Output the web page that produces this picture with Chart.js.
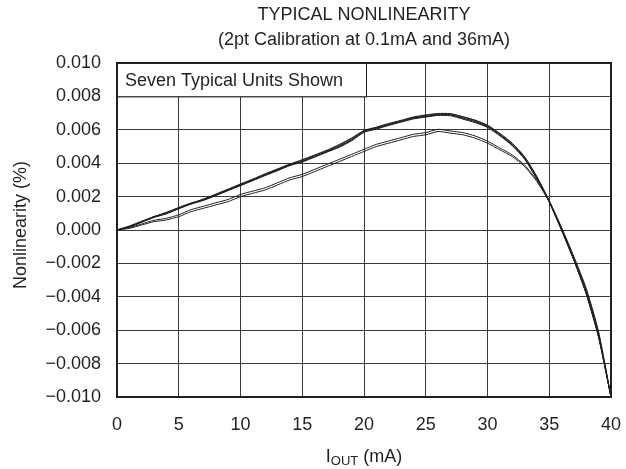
<!DOCTYPE html>
<html lang="en">
<head>
<meta charset="UTF-8">
<title>Typical Nonlinearity</title>
<script src="https://cdn.jsdelivr.net/npm/chart.js"></script>
<style>
  html, body { margin: 0; padding: 0; background: #fff; }
  #wrap { width: 626px; height: 469px; }
</style>
</head>
<body>
<div id="wrap"><canvas id="myChart"></canvas></div>
<script>
// current in mA, 0..40
const iOut = [0,1,2,3,4,5,6,7,8,9,10,11,12,13,14,15,16,17,18,19,20,21,22,23,24,25,26,27,28,29,30,31,32,33,34,35,36,37,38,39,40];

// seven units, nonlinearity in %
const unit1 = [0, 0.0002, 0.0005, 0.0008, 0.0010, 0.0013, 0.0016, 0.0018, 0.0021, 0.0024, 0.0027, 0.0030, 0.0033, 0.0036, 0.0039, 0.0041, 0.0044, 0.0047, 0.0050, 0.0054, 0.0059, 0.0061, 0.0063, 0.0065, 0.0067, 0.0068, 0.0069, 0.0069, 0.0067, 0.0065, 0.0062, 0.0057, 0.0051, 0.0043, 0.0031, 0.0017, 0.0000, -0.0018, -0.0038, -0.0064, -0.0100];
const unit2 = [0, 0.00024, 0.00053, 0.00079, 0.00106, 0.00133, 0.00158, 0.00186, 0.00213, 0.00242, 0.00273, 0.00302, 0.00334, 0.00363, 0.00393, 0.00418, 0.00446, 0.00475, 0.00508, 0.00548, 0.00593, 0.00613, 0.00635, 0.00653, 0.00674, 0.00686, 0.00694, 0.00695, 0.00677, 0.00656, 0.00625, 0.00576, 0.00516, 0.00436, 0.00318, 0.00172, 0.00002, -0.00178, -0.00376, -0.00634, -0.0100];
const unit3 = [0, 0.00017, 0.00046, 0.00075, 0.00097, 0.00127, 0.00155, 0.00177, 0.00206, 0.00236, 0.00265, 0.00296, 0.00326, 0.00355, 0.00386, 0.00407, 0.00436, 0.00466, 0.00495, 0.00534, 0.00585, 0.00604, 0.00626, 0.00646, 0.00665, 0.00676, 0.00686, 0.00684, 0.00664, 0.00643, 0.00614, 0.00564, 0.00505, 0.00424, 0.00304, 0.00166, -0.00002, -0.00183, -0.00385, -0.00645, -0.0100];
const unit4 = [0, 0.00022, 0.00050, 0.00081, 0.00103, 0.00135, 0.00162, 0.00183, 0.00215, 0.00245, 0.00276, 0.00305, 0.00337, 0.00366, 0.00395, 0.00421, 0.00449, 0.00478, 0.00512, 0.00551, 0.00596, 0.00616, 0.00638, 0.00657, 0.00677, 0.00689, 0.00698, 0.00697, 0.00679, 0.00658, 0.00628, 0.00579, 0.00520, 0.00440, 0.00320, 0.00175, 0.00004, -0.00175, -0.00374, -0.00632, -0.0100];
const unit5 = [0, 0.00019, 0.00048, 0.00077, 0.00100, 0.00129, 0.00157, 0.00180, 0.00208, 0.00238, 0.00268, 0.00298, 0.00329, 0.00358, 0.00388, 0.00412, 0.00441, 0.00470, 0.00502, 0.00541, 0.00588, 0.00608, 0.00630, 0.00649, 0.00669, 0.00680, 0.00690, 0.00689, 0.00670, 0.00648, 0.00618, 0.00569, 0.00509, 0.00428, 0.00309, 0.00168, -0.00001, -0.00181, -0.00381, -0.00640, -0.0100];
const unit6 = [0, 0.0001, 0.0003, 0.0005, 0.0006, 0.0008, 0.0011, 0.0013, 0.0015, 0.0017, 0.0020, 0.0022, 0.0024, 0.0027, 0.0030, 0.0032, 0.0035, 0.0038, 0.0041, 0.0044, 0.0047, 0.0050, 0.0052, 0.0054, 0.0056, 0.0057, 0.0059, 0.0058, 0.0057, 0.0055, 0.0052, 0.0048, 0.0044, 0.0038, 0.0029, 0.0017, 0.0001, -0.0017, -0.0036, -0.0062, -0.0100];
const unit7 = [0, 0.00014, 0.00036, 0.00058, 0.00070, 0.00091, 0.00122, 0.00142, 0.00163, 0.00183, 0.00213, 0.00233, 0.00253, 0.00283, 0.00313, 0.00333, 0.00363, 0.00393, 0.00423, 0.00453, 0.00483, 0.00513, 0.00533, 0.00553, 0.00573, 0.00583, 0.00603, 0.00593, 0.00583, 0.00563, 0.00532, 0.00491, 0.00450, 0.00389, 0.00297, 0.00175, 0.00015, -0.00160, -0.00350, -0.00610, -0.0100];

const units = [unit1, unit2, unit3, unit4, unit5, unit6, unit7];

const titleLines = ['TYPICAL NONLINEARITY', '(2pt Calibration at 0.1mA and 36mA)'];
const yTitle = 'Nonlinearity (%)';
const noteText = 'Seven Typical Units Shown';

const FONT = '"Liberation Sans", Arial, sans-serif';
const INK = '#231f20';

// titles, note box and frame
const decor = {
  id: 'decor',
  beforeDatasetsDraw(chart) {
    const { ctx, scales: { x, y } } = chart;
    // note box in top band, 0..20 mA
    const bx = x.getPixelForValue(0), bx2 = x.getPixelForValue(20);
    const by = y.getPixelForValue(0.010), by2 = y.getPixelForValue(0.008);
    ctx.save();
    ctx.fillStyle = '#fff';
    ctx.fillRect(bx, by, bx2 - bx + 2, by2 - by);
    ctx.strokeStyle = INK;
    ctx.lineWidth = 1;
    ctx.strokeRect(bx + 0.5, by + 0.5, bx2 - bx + 2, by2 - by);
    ctx.fillStyle = INK;
    ctx.font = '18px ' + FONT;
    ctx.textBaseline = 'middle';
    ctx.textAlign = 'left';
    ctx.fillText(noteText, bx + 8, (by + by2) / 2 + 1);
    ctx.restore();
  },
  afterDraw(chart) {
    const { ctx, chartArea: a } = chart;
    const cx = (a.left + a.right) / 2;
    ctx.save();
    ctx.fillStyle = INK;
    ctx.font = '18px ' + FONT;
    ctx.textAlign = 'center';
    ctx.textBaseline = 'middle';
    ctx.fillText(titleLines[0], cx, 15);
    ctx.fillText(titleLines[1], cx, 40);

    // frame
    ctx.strokeStyle = INK;
    ctx.lineWidth = 2;
    ctx.strokeRect(a.left, a.top, a.right - a.left, a.bottom - a.top);

    // y title
    ctx.save();
    ctx.translate(21, 225);
    ctx.rotate(-Math.PI / 2);
    ctx.fillText(yTitle, 0, 0);
    ctx.restore();

    // x title with subscript
    const p1 = 'I', sub = 'OUT', p2 = ' (mA)';
    ctx.font = '18px ' + FONT;
    const w1 = ctx.measureText(p1).width, w3 = ctx.measureText(p2).width;
    ctx.font = '13px ' + FONT;
    const w2 = ctx.measureText(sub).width;
    let tx = cx - (w1 + w2 + w3) / 2;
    const ty = 462;
    ctx.textAlign = 'left';
    ctx.textBaseline = 'alphabetic';
    ctx.font = '18px ' + FONT;
    ctx.fillText(p1, tx, ty); tx += w1;
    ctx.font = '13px ' + FONT;
    ctx.fillText(sub, tx, ty + 3); tx += w2;
    ctx.font = '18px ' + FONT;
    ctx.fillText(p2, tx, ty);
    ctx.restore();
  }
};

const ctx = document.querySelector('#myChart');
const nlChart = new Chart(ctx, {
  type: 'line',
  data: {
    datasets: units.map((u, k) => ({
      label: 'Unit ' + (k + 1),
      data: iOut.map((v, i) => ({ x: v, y: u[i] })),
      borderColor: INK,
      borderWidth: 1,
      pointRadius: 0,
      tension: 0.2,
      fill: false
    }))
  },
  options: {
    responsive: true,
    maintainAspectRatio: false,
    animation: false,
    layout: { padding: { top: 63, right: 15, bottom: 0, left: 0 } },
    plugins: {
      legend: { display: false },
      title: { display: false },
      tooltip: { enabled: false }
    },
    scales: {
      x: {
        type: 'linear',
        min: 0, max: 40,
        afterFit: s => { s.height = 72; s.paddingLeft = 0; s.paddingRight = 0; },
        ticks: { stepSize: 5, padding: 17, color: INK, font: { family: FONT, size: 18 } },
        grid: { color: '#3a3a3a', lineWidth: 1, drawTicks: false },
        border: { display: false }
      },
      y: {
        min: -0.010, max: 0.010,
        afterFit: s => { s.width = 117; s.paddingTop = 0; s.paddingBottom = 0; },
        ticks: {
          stepSize: 0.002, padding: 16, color: INK, font: { family: FONT, size: 18 },
          callback: v => (v < -1e-9 ? '\u2212' : '') + Math.abs(v).toFixed(3)
        },
        grid: { color: '#3a3a3a', lineWidth: 1, drawTicks: false },
        border: { display: false }
      }
    }
  },
  plugins: [decor]
});
</script>
</body>
</html>
